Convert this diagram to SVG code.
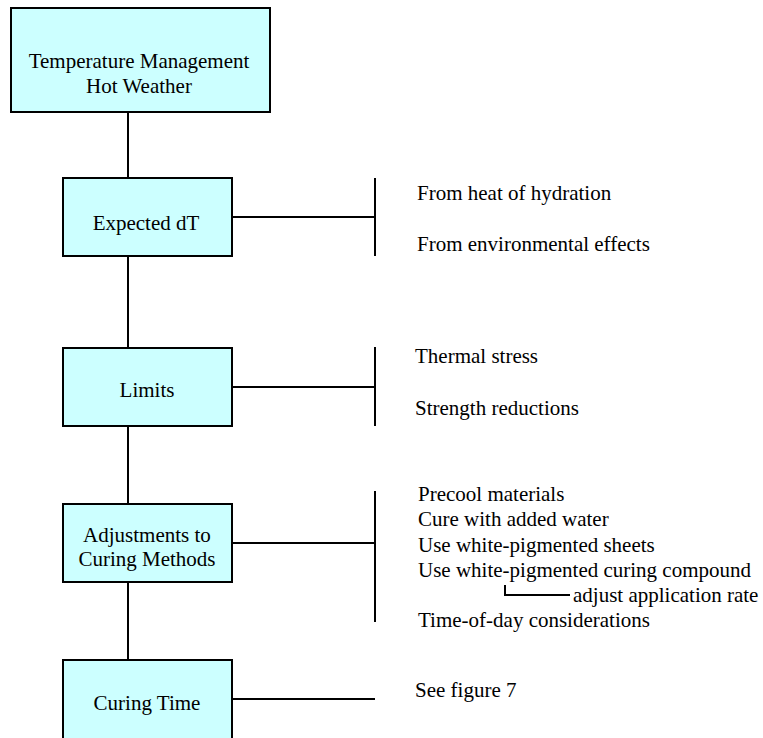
<svg xmlns="http://www.w3.org/2000/svg" width="763" height="738" viewBox="0 0 763 738">
<style>
.box{fill:#CCFFFF;stroke:#000;stroke-width:2}
.ln{stroke:#000;stroke-width:2;fill:none}
text{font-family:"Liberation Serif","Times New Roman",serif;font-size:21px;fill:#000}
.c{text-anchor:middle}
</style>
<rect width="763" height="738" fill="#fff"/>
<g id="connectors">
<line class="ln" x1="128" y1="112" x2="128" y2="178"/>
<line class="ln" x1="128" y1="256" x2="128" y2="348"/>
<line class="ln" x1="128" y1="426" x2="128" y2="504"/>
<line class="ln" x1="128" y1="582" x2="128" y2="660"/>
<line class="ln" x1="232" y1="217" x2="375" y2="217"/>
<line class="ln" x1="375" y1="178" x2="375" y2="256"/>
<line class="ln" x1="232" y1="387" x2="375" y2="387"/>
<line class="ln" x1="375" y1="347" x2="375" y2="426"/>
<line class="ln" x1="232" y1="543" x2="375" y2="543"/>
<line class="ln" x1="375" y1="491" x2="375" y2="622"/>
<line class="ln" x1="232" y1="699" x2="375" y2="699"/>
<polyline class="ln" points="505,585 505,595 570,595"/>
</g>
<g id="node-top">
<rect class="box" x="11" y="8" width="259" height="104"/>
<text class="c" x="139" y="68">Temperature Management</text>
<text class="c" x="139" y="93">Hot Weather</text>
</g>
<g id="node-expected">
<rect class="box" x="63" y="178" width="169" height="78"/>
<text class="c" x="146" y="230">Expected dT</text>
</g>
<g id="node-limits">
<rect class="box" x="63" y="348" width="169" height="78"/>
<text class="c" x="147" y="397">Limits</text>
</g>
<g id="node-adjust">
<rect class="box" x="63" y="504" width="169" height="78"/>
<text class="c" x="147" y="542">Adjustments to</text>
<text class="c" x="147" y="566">Curing Methods</text>
</g>
<g id="node-curing">
<rect class="box" x="63" y="660" width="169" height="90"/>
<text class="c" x="147" y="710">Curing Time</text>
</g>
<g id="labels">
<text x="417" y="200">From heat of hydration</text>
<text x="417" y="251">From environmental effects</text>
<text x="415" y="363">Thermal stress</text>
<text x="415" y="415">Strength reductions</text>
<text x="418" y="501">Precool materials</text>
<text x="418" y="526">Cure with added water</text>
<text x="418" y="552">Use white-pigmented sheets</text>
<text x="418" y="577">Use white-pigmented curing compound</text>
<text x="573" y="602">adjust application rate</text>
<text x="418" y="627">Time-of-day considerations</text>
<text x="415" y="697">See figure 7</text>
</g>
</svg>
